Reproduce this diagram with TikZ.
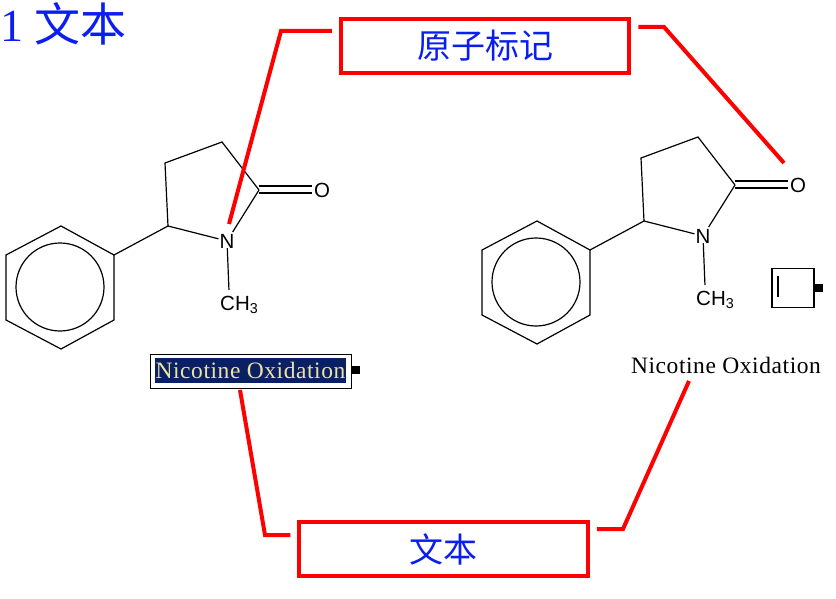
\documentclass[tikz,border=0pt]{standalone}
\usepackage{fontspec}
\usepackage{tikz}
\usetikzlibrary{positioning,calc}
\setmainfont{Liberation Serif}
\setsansfont{Liberation Sans}
\newfontfamily\cjk{Noto Sans CJK SC}
\newfontfamily\rxnfont[LetterSpace=2.4]{Liberation Serif}
\definecolor{callred}{RGB}{255,0,0}
\definecolor{labelblue}{RGB}{10,30,240}
\definecolor{selnavy}{RGB}{10,32,100}
\definecolor{selcream}{RGB}{240,225,160}

\begin{document}
\begin{tikzpicture}[
    x=1pt, y=-1pt,
    labelbox/.style={rectangle, draw=callred, line width=4pt, text=labelblue,
                minimum width=288.5pt, minimum height=53.5pt, align=center, font=\fontsize{34}{34}\selectfont\cjk},
    callout/.style={draw=callred, line width=4pt},
    bond/.style={draw=black, line width=1.2pt},
    atom/.style={inner sep=0pt, font=\fontsize{20.5}{21}\selectfont\sffamily},
    reaction/.style={inner sep=0pt, font=\fontsize{23.5}{24}\selectfont\rxnfont},
    handle/.style={rectangle, fill=black, inner sep=0pt, minimum size=8pt}
]
    \useasboundingbox (0,0) rectangle (836,599);

    % Title
    \node[anchor=west, inner sep=0pt, text=labelblue, font=\fontsize{46}{46}\selectfont] (title) at (0,24) {1 {\cjk 文本}};

    % Label boxes
    \node[labelbox] (atomlabel) at (485,46) {原子标记};
    \node[labelbox] (textlabel) at (443.5,549) {文本};

    % Both molecules
    \foreach \m/\dx/\dy in {l/0/0, r/476/-5} {
        \begin{scope}[shift={(\dx,\dy)}]
            \coordinate (\m a) at (61,226);
            \coordinate (\m b) at (114,255);
            \coordinate (\m c) at (114,320);
            \coordinate (\m d) at (61,349);
            \coordinate (\m e) at (6,320);
            \coordinate (\m f) at (6,255);
            \coordinate (\m g) at (168,226);
            \coordinate (\m h) at (165,163);
            \coordinate (\m i) at (222,142);
            \coordinate (\m j) at (259,190);
            \node[atom] (\m N) at (227,241) {N};
            \node[atom] (\m O) at (322,190) {O};
            \node[atom, anchor=west] (\m M) at (220,305) {CH\textsubscript{3}};

            \draw[bond] (\m a) -- (\m b) -- (\m c) -- (\m d) -- (\m e) -- (\m f) -- cycle;
            \draw[bond] (60,287) circle (44);
            \draw[bond] (\m b) -- (\m g) -- (\m h) -- (\m i) -- (\m j);
            \draw[bond, shorten >=1pt] (\m g) -- (\m N);
            \draw[bond, shorten >=2pt] (\m j) -- (\m N);
            \draw[bond, shorten >=1pt] (\m N) -- (229,291);
            \draw[bond] ($(\m j)+(0,-4)$) -- ($(\m O.west)+(-2,-4)$);
            \draw[bond] ($(\m j)+(0,3)$) -- ($(\m O.west)+(-2,3)$);
        \end{scope}
    }

    % Selected text
    \node[rectangle, draw=black, line width=1.4pt, fill=white, minimum width=201pt, minimum height=34pt] (selbox) at (251,371.5) {};
    \node[reaction, fill=selnavy, text=selcream, minimum width=191pt, minimum height=25pt] (seltext) at (250.5,370.5) {Nicotine Oxidation};
    \node[handle, right=0pt of selbox, yshift=1.5pt] (selhandle) {};

    % Plain text and its icon
    \node[reaction] (plaintext) at (726,365) {Nicotine Oxidation};
    \node[rectangle, draw=black, line width=1.2pt, minimum width=42pt, minimum height=39pt, inner sep=0pt] (icon) at (793,288) {};
    \draw[bond] (778,276) -- (778,297);
    \node[handle, right=0pt of icon] (iconhandle) {};

    % Callouts
    \coordinate (bendA) at (281,31);
    \coordinate (tipA) at (229,224);
    \coordinate (bendB) at (664,27);
    \coordinate (tipB) at (784,163);
    \coordinate (bendC) at (265,535);
    \coordinate (bendD) at (623,529);
    \draw[callout, shorten <=7pt] (atomlabel.west |- bendA) -- (bendA) -- (tipA);
    \draw[callout, shorten <=7pt] (atomlabel.east |- bendB) -- (bendB) -- (tipB);
    \draw[callout, shorten >=7pt] (240,390) -- (bendC) -- (textlabel.west |- bendC);
    \draw[callout, shorten >=7pt] (689,381) -- (bendD) -- (textlabel.east |- bendD);
\end{tikzpicture}
\end{document}
